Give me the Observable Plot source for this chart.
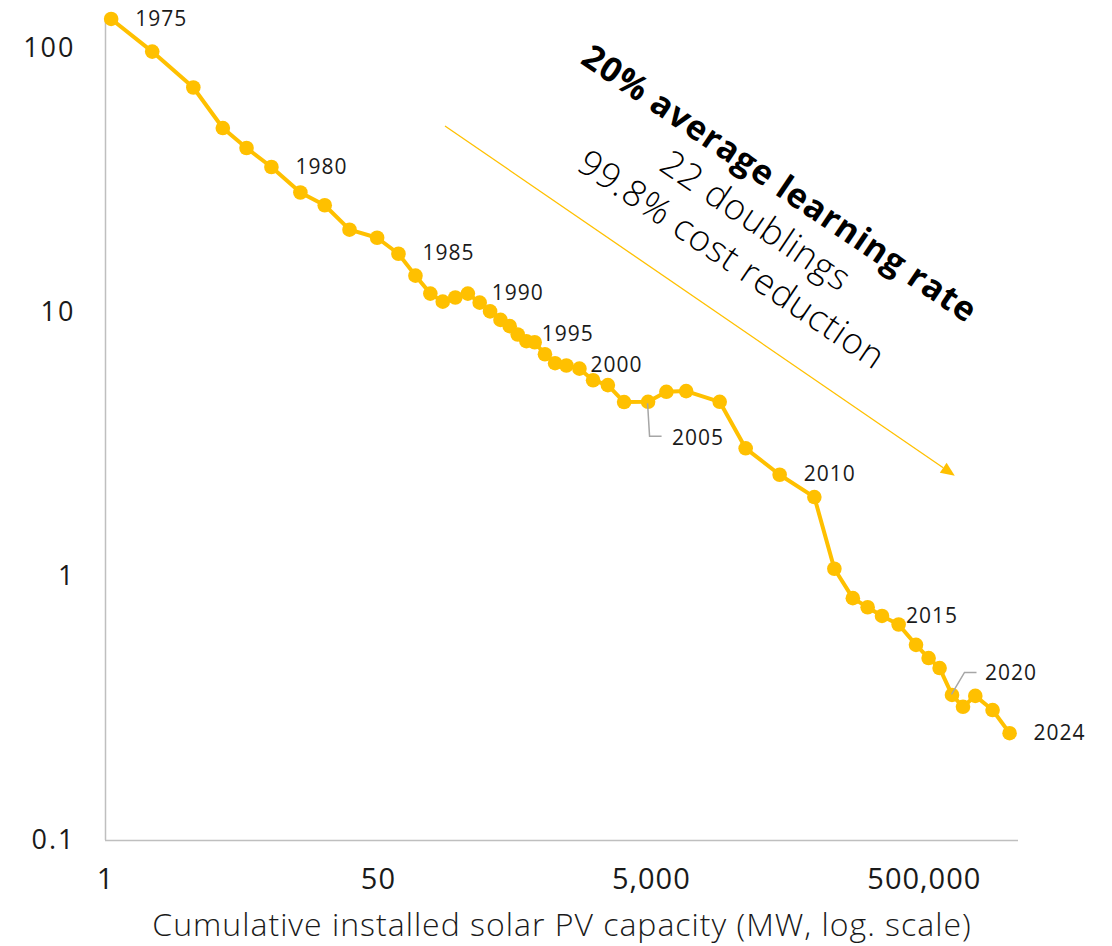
<!DOCTYPE html>
<html><head><meta charset="utf-8">
<script src="https://cdn.jsdelivr.net/npm/d3@7"></script>
<script src="https://cdn.jsdelivr.net/npm/@observablehq/plot@0.6"></script>
<style>
html,body{margin:0;padding:0;background:#fff;}
#chart{width:1112px;height:946px;}
#chart svg text{letter-spacing:1px;}
#chart svg text.bold{letter-spacing:1.6px;}
#chart svg text.xlab{letter-spacing:1.3px;}
#chart svg g[aria-label="y-axis tick label"] text{letter-spacing:2px;}
</style></head><body><div id="chart"></div>
<script>
const years = [1975,1976,1977,1978,1979,1980,1981,1982,1983,1984,1985,1986,1987,1988,1989,1990,1991,1992,1993,1994,1995,1996,1997,1998,1999,2000,2001,2002,2003,2004,2005,2006,2007,2008,2009,2010,2011,2012,2013,2014,2015,2016,2017,2018,2019,2020,2021,2022,2023,2024];
const capacityMW = [0.55,1.10,2.20,3.62,5.40,8.22,13.4,20.2,30.7,48.9,
  70.1,93.4,120,148,183,226,276,329,392,458,
  524,607,698,830,985,1192,1485,1870,2400,3155,
  4729,6440,8990,15830,24540,43550,78200,109600,149700,192200,
  244900,324100,434800,537700,647300,797800,960300,1182000,1582000,2108000];
const pricePerW = [129.5,97.4,71.2,50.0,42.0,35.6,28.5,25.5,20.6,19.2,
  16.7,13.8,11.8,11.0,11.4,11.8,10.9,10.1,9.38,8.88,
  8.26,7.79,7.72,6.95,6.43,6.30,6.13,5.54,5.31,4.58,
  4.59,5.01,5.04,4.59,3.06,2.43,2.00,1.07,0.828,0.765,
  0.709,0.658,0.551,0.491,0.450,0.356,0.321,0.353,0.312,0.255];
const labelYears = [1975,1980,1985,1990,1995,2000,2010,2015,2024];
const leaderYears = [2005,2020];
const xTickValues = [0.5,50,5000,500000];
const xTickLabels = ["1","50","5,000","500,000"];
const yTickValues = [0.1,1,10,100];
const yTickLabels = ["0.1","1","10","100"];
const xLabel = "Cumulative installed solar PV capacity (MW, log. scale)";
const annotationLines = ["20% average learning rate","22 doublings","99.8% cost reduction"];
const annotationX = [43300, 28900, 19300];
const annotationY = [30.6, 22.15, 15.8];
const arrowStart = [155, 50.7];
const arrowEnd = [843000, 2.40];

const data = years.map((year,i) => ({year, cap: capacityMW[i], price: pricePerW[i]}));
const gold = "#FFC000";
const textColor = "#1a1a1a";
const font = "'Open Sans', sans-serif";

const leaderPaths = {2005: [[0,2],[2,35],[14,35]], 2020: [[0,0],[13,-22],[25,-22]]};

const leaderMark = (index, scales) => {
  if (!scales || !scales.x) return null;
  const g = d3.create("svg:g");
  data.filter(d => leaderYears.includes(d.year)).forEach(d => {
    const px = scales.x(d.cap), py = scales.y(d.price);
    g.append("path")
      .attr("d", d3.line()(leaderPaths[d.year].map(([dx,dy]) => [px+dx, py+dy])))
      .attr("fill","none").attr("stroke","#a6a6a6").attr("stroke-width",1.5);
  });
  return g.node();
};

const arrowMark = (index, scales) => {
  if (!scales || !scales.x) return null;
  const g = d3.create("svg:g");
  const x1 = scales.x(arrowStart[0]), y1 = scales.y(arrowStart[1]);
  const x2 = scales.x(arrowEnd[0]), y2 = scales.y(arrowEnd[1]);
  const a = Math.atan2(y2 - y1, x2 - x1);
  const L = 14, W = 6;
  const bx = x2 - L * Math.cos(a), by = y2 - L * Math.sin(a);
  g.append("line").attr("x1", x1).attr("y1", y1).attr("x2", bx).attr("y2", by)
    .attr("stroke", gold).attr("stroke-width", 1.3);
  g.append("path").attr("d", `M${x2},${y2}L${bx + W*Math.sin(a)},${by - W*Math.cos(a)}L${bx - W*Math.sin(a)},${by + W*Math.cos(a)}Z`)
    .attr("fill", gold);
  return g.node();
};

const annotations = annotationLines.map((t,i) => ({t, x: annotationX[i], y: annotationY[i], bold: i === 0}));

const chart = Plot.plot({
  width: 1112,
  height: 946,
  marginLeft: 105,
  marginRight: 94,
  marginTop: 18,
  marginBottom: 106,
  style: {fontFamily: font, fontSize: "27px", color: textColor, background: "#fff"},
  x: {type: "log", domain: [0.5, 2450000], axis: null},
  y: {type: "log", domain: [0.1, 130], ticks: yTickValues, tickFormat: d => yTickLabels[yTickValues.indexOf(d)], tickSize: 0, tickPadding: 30, label: null},
  marks: [
    Plot.ruleX([0.5], {stroke: "#bfbfbf", strokeWidth: 1.5}),
    Plot.ruleY([0.1], {stroke: "#bfbfbf", strokeWidth: 1.5}),
    arrowMark,
    Plot.line(data, {x: "cap", y: "price", stroke: gold, strokeWidth: 4}),
    Plot.dot(data, {x: "cap", y: "price", r: 7.3, fill: gold}),
    leaderMark,
    Plot.text(data.filter(d => labelYears.includes(d.year)), {x: "cap", y: "price", text: d => String(d.year), dx: 24, textAnchor: "start", fontSize: 21, fill: textColor}),
    Plot.text(data.filter(d => d.year === 2005), {x: "cap", y: "price", text: d => String(d.year), dx: 24, dy: 36, textAnchor: "start", fontSize: 21, fill: textColor}),
    Plot.text(data.filter(d => d.year === 2020), {x: "cap", y: "price", text: d => String(d.year), dx: 33, dy: -22, textAnchor: "start", fontSize: 21, fill: textColor}),
    Plot.text(xTickValues, {x: d => d, frameAnchor: "bottom", text: (d, i) => xTickLabels[i], dy: 48, fontSize: 29, fill: textColor}),
    Plot.text(annotations.filter(d => d.bold), {x: "x", y: "y", text: "t", rotate: 34, fontSize: 34, fontWeight: "bold", fill: "#000", className: "bold"}),
    Plot.text(annotations.filter(d => !d.bold), {x: "x", y: "y", text: "t", rotate: 34, fontSize: 36, fontWeight: 300, fill: "#000"}),
    Plot.text([xLabel], {frameAnchor: "bottom", text: d => d, dy: 95, fontSize: 32, fontWeight: 300, fill: textColor, className: "xlab"})
  ]
});
document.getElementById("chart").appendChild(chart);
</script>
</body></html>
